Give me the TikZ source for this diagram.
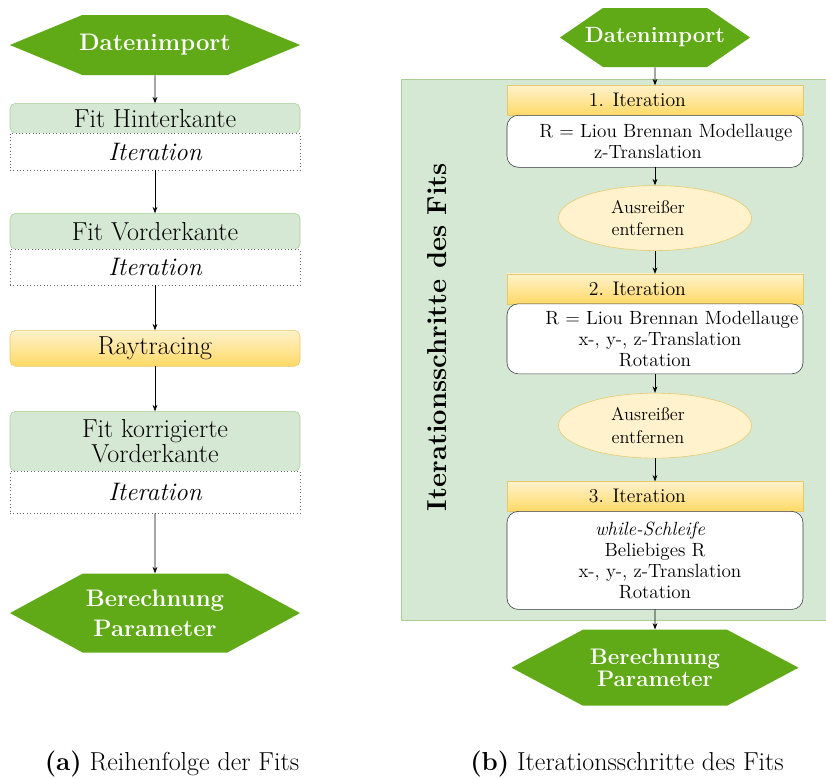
\documentclass[tikz,border=0pt]{standalone}
\usepackage{fontspec}
\usepackage{tikz}
\usetikzlibrary{arrows.meta, positioning, shapes.geometric, shapes.symbols}

\definecolor{hexgreen}{HTML}{60A917}
\definecolor{fitgreen}{HTML}{D5E8D4}
\definecolor{fitline}{HTML}{A9CF96}
\definecolor{yeltop}{HTML}{FFF2CC}
\definecolor{yelbot}{HTML}{FFD966}
\definecolor{yelline}{HTML}{E8C86A}
\definecolor{boxline}{HTML}{36393D}

\tikzset{
  hexa/.style={signal, signal to=west and east, fill=hexgreen, text=white,
    font=\fontsize{17}{21}\selectfont\bfseries, align=center, inner sep=0pt,
    minimum width=7.25cm},
  fitbox/.style={draw=fitline, fill=fitgreen, rounded corners=4pt, minimum width=7.25cm,
    minimum height=0.9cm, align=center, inner sep=0pt, outer sep=0pt,
    font=\fontsize{18.5}{17.5}\selectfont},
  itbox/.style={draw=black!60, dotted, fill=white, minimum width=7.25cm, minimum height=0.9cm,
    inner sep=0pt, outer sep=0pt, font=\fontsize{18}{17}\selectfont\itshape},
  raybox/.style={draw=yelline, top color=yeltop, bottom color=yelbot, rounded corners=4pt,
    minimum width=7.25cm, minimum height=0.9cm, inner sep=0pt, outer sep=0pt,
    font=\fontsize{18.5}{17.5}\selectfont},
  stephead/.style={draw=yelline, top color=yeltop, bottom color=yelbot, minimum width=7.4cm,
    minimum height=0.75cm, inner sep=0pt, outer sep=0pt, font=\fontsize{14}{15}\selectfont},
  stepbox/.style={draw=boxline, fill=white, rounded corners=8pt, minimum width=7.4cm,
    align=center, inner sep=0pt, outer sep=0pt, font=\fontsize{13.6}{15}\selectfont},
  outlier/.style={ellipse, draw=yelline, fill=yeltop, minimum width=4.825cm,
    minimum height=1.625cm, align=center, inner sep=0pt, font=\fontsize{13}{16}\selectfont},
  bgpanel/.style={draw=fitline, fill=fitgreen, inner sep=0pt},
  arr/.style={-{Stealth[length=1.6mm, width=1.2mm]}, line width=0.5pt},
}

\begin{document}
\begin{tikzpicture}
  \useasboundingbox (0,0) rectangle (20.65,-19.45);

  % (a) Reihenfolge der Fits
  \node[hexa, minimum height=1.5cm, signal pointer angle=45, inner xsep=-0.08cm] (dat1) at (3.875,-1.125) {Datenimport};
  \node[fitbox, minimum height=0.75cm, below=0.7cm of dat1] (fh) {Fit Hinterkante};
  \node[itbox, minimum height=0.925cm, below=0pt of fh] (it1) {Iteration};
  \node[fitbox, below=1.075cm of it1] (fv) {Fit Vorderkante};
  \node[itbox, below=0pt of fv] (it2) {Iteration};
  \node[raybox, below=1.125cm of it2] (ray) {Raytracing};
  \node[fitbox, minimum height=1.5cm, below=1.125cm of ray] (fk) {Fit korrigierte\\Vorderkante};
  \node[itbox, minimum height=1.05cm, below=0pt of fk] (it3) {Iteration};
  \node[hexa, minimum height=1.975cm, signal pointer angle=57, below=1.5cm of it3] (ber1) {Berechnung\\Parameter};

  \draw[arr] (dat1) -- (fh);
  \draw[arr] (it1) -- (fv);
  \draw[arr] (it2) -- (ray);
  \draw[arr] (ray) -- (fk);
  \draw[arr] (it3) -- (ber1);

  % (b) Iterationsschritte des Fits
  \node[bgpanel, minimum width=10.625cm, minimum height=13.525cm] (panel) at (15.3375,-8.7375) {};
  \node[rotate=90, font=\fontsize{19.5}{22}\selectfont\bfseries] (paneltitle) at (10.925,-8.425) {Iterationsschritte des Fits};

  \node[hexa, font=\fontsize{15.7}{18}\selectfont\bfseries, minimum width=4.75cm, minimum height=1.475cm,
    signal pointer angle=69, inner xsep=-0.45cm] (dat2) at (16.375,-0.9375) {Datenimport};
  \node[stephead, below=0.45cm of dat2] (h1) {\raisebox{-2.5pt}{1. Iteration}\hspace*{25pt}};
  \node[stepbox, minimum height=1.3cm, below=0pt of h1] (b1)
    {\hspace*{15.5pt}R = Liou Brennan Modellauge\\z-Translation\hspace*{10pt}};
  \node[outlier, below=0.45cm of b1] (e1) {Ausreißer\hspace*{10pt}\\entfernen\hspace*{10pt}};
  \node[stephead, below=0.575cm of e1] (h2) {\raisebox{-2.5pt}{2. Iteration}\hspace*{25pt}};
  \node[stepbox, minimum height=1.75cm, below=0pt of h2] (b2)
    {\hspace*{24pt}R = Liou Brennan Modellauge\\\hspace*{7pt}x-, y-, z-Translation\\Rotation};
  \node[outlier, below=0.475cm of b2] (e2) {Ausreißer\hspace*{10pt}\\entfernen\hspace*{10pt}};
  \node[stephead, below=0.575cm of e2] (h3) {\raisebox{-2.5pt}{3. Iteration}\hspace*{25pt}};
  \node[stepbox, minimum height=2.45cm, below=0pt of h3] (b3)
    {\textit{while-Schleife}\hspace*{7pt}\\Beliebiges R\hspace*{8.5pt}\\\hspace*{7pt}x-, y-, z-Translation\\Rotation};
  \node[hexa, font=\fontsize{16}{13.5}\selectfont\bfseries, minimum width=7.175cm, minimum height=1.9cm,
    signal pointer angle=56, below=0.5cm of b3] (ber2) {Berechnung\\Parameter};

  \draw[arr] (dat2) -- (h1);
  \draw[arr] (b1) -- (e1);
  \draw[arr] (e1) -- (h2);
  \draw[arr] (b2) -- (e2);
  \draw[arr] (e2) -- (h3);
  \draw[arr] (b3) -- (ber2);

  % captions
  \node[anchor=base, font=\fontsize{18.5}{20}\selectfont] (capa) at (4.3,-19.25) {\textbf{(a)} Reihenfolge der Fits};
  \node[anchor=base, font=\fontsize{18.5}{20}\selectfont] (capb) at (15.675,-19.25) {\textbf{(b)} Iterationsschritte des Fits};
\end{tikzpicture}
\end{document}
